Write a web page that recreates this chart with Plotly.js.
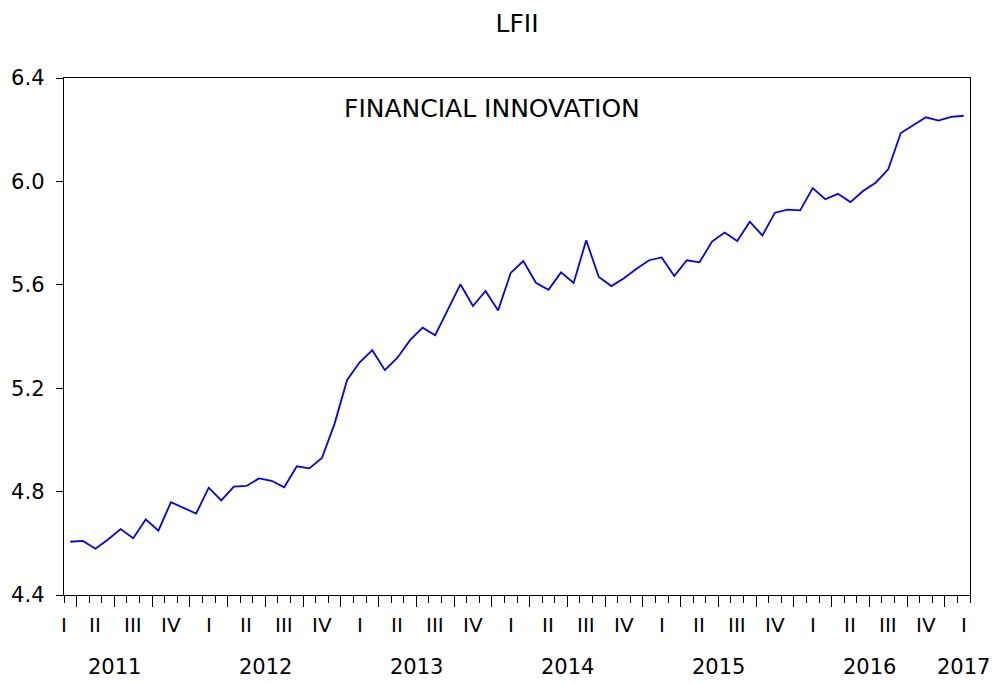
<!DOCTYPE html>
<html><head><meta charset="utf-8">
<script src="https://cdn.plot.ly/plotly-3.0.1.min.js"></script>
<style>html,body{margin:0;padding:0;background:#fff}#chart{width:995px;height:684px}</style>
</head><body><div id="chart"></div>
<script>
// ---- data ----
const chartTitle = "LFII";
const seriesName = "FINANCIAL INNOVATION";
// monthly values, 2011M01 .. 2016M12
const lfii = [
  4.606,4.609,4.579,4.615,4.655,4.620,4.693,4.649,4.759,4.737,4.715,4.815,
  4.766,4.819,4.822,4.851,4.842,4.817,4.898,4.890,4.930,5.062,5.232,5.300,
  5.347,5.270,5.318,5.386,5.434,5.405,5.505,5.602,5.518,5.576,5.501,5.646,
  5.692,5.608,5.581,5.648,5.607,5.772,5.630,5.595,5.625,5.662,5.695,5.706,
  5.634,5.695,5.687,5.767,5.802,5.769,5.844,5.791,5.879,5.891,5.888,5.974,
  5.931,5.952,5.920,5.963,5.995,6.047,6.187,6.217,6.248,6.235,6.250,6.254
];
const quarterLabels = ["I","II","III","IV"];
const yearLabels = ["2011","2012","2013","2014","2015","2016","2017"];
const yTickVals = [4.4,4.8,5.2,5.6,6.0,6.4];
const yTickText = ["4.4","4.8","5.2","5.6","6.0","6.4"];

// ---- layout helpers (positions on the month-index axis) ----
const n = lfii.length;
const monthIndex = lfii.map((_, i) => i);
const xRange = [-0.5, n - 0.5];
const longTicks = [];
for (let t = 0.5; t < n - 0.5; t += 3) longTicks.push(t);
const qVals = [-0.5], qText = [quarterLabels[0]];
for (let k = 1; -1 + 3 * k <= n - 1; k++) { qVals.push(-1 + 3 * k); qText.push(quarterLabels[k % 4]); }
const yrVals = [];
for (let k = 0; k < yearLabels.length - 1; k++) yrVals.push(3.5 + 12 * k);
yrVals.push(n - 1);

const FONT = "DejaVu Sans";
const tickFont = {family: FONT, size: 20, color: "#000"};

const trace = {
  x: monthIndex, y: lfii, type: "scatter", mode: "lines",
  line: {color: "#0000ff", width: 1.8}, name: seriesName, showlegend: false,
  hoverinfo: "y"
};

const annotations = [{
  text: seriesName, xref: "paper", yref: "paper", x: (491.5 - 64) / 906, y: 1 - (108.5 - 78) / 517,
  xanchor: "center", yanchor: "middle", showarrow: false,
  font: {family: FONT, size: 25, color: "#000"}
}];
qVals.forEach((v, i) => annotations.push({
  text: qText[i], xref: "x", yref: "paper", x: v, y: 0, xanchor: "center", yanchor: "top",
  yshift: -16, showarrow: false, font: tickFont
}));
yrVals.forEach((v, i) => annotations.push({
  text: yearLabels[i], xref: "x", yref: "paper", x: v, y: 0, xanchor: "center", yanchor: "top",
  yshift: -58, showarrow: false, font: {family: FONT, size: 21, color: "#000"}
}));

const layout = {
  width: 995, height: 684,
  margin: {l: 64, r: 25, t: 78, b: 89},
  paper_bgcolor: "#fff", plot_bgcolor: "#fff",
  showlegend: false,
  title: {text: chartTitle, font: {family: FONT, size: 25, color: "#000"},
          x: 0.5, xref: "paper", xanchor: "center", y: 1 - 23 / 684, yref: "container", yanchor: "middle"},
  xaxis: {
    range: xRange, showgrid: false, zeroline: false, fixedrange: true, automargin: false,
    showline: true, mirror: true, linecolor: "#000", linewidth: 1.3,
    tickmode: "array", tickvals: longTicks, ticks: "outside", ticklen: 11,
    tickwidth: 1, tickcolor: "#000", showticklabels: false,
    minor: {tickmode: "linear", tick0: -0.5, dtick: 1, ticks: "outside", ticklen: 7,
            tickwidth: 1, tickcolor: "#000", showgrid: false}
  },
  yaxis: {
    range: [4.4, 6.4], showline: true, mirror: true, linecolor: "#000", linewidth: 1.3,
    tickmode: "array", tickvals: yTickVals, ticktext: yTickText,
    ticks: "outside", ticklen: 7, tickwidth: 1, tickcolor: "#000",
    ticklabelstandoff: 7,
    tickfont: {family: FONT, size: 21, color: "#000"},
    showgrid: false, zeroline: false, fixedrange: true, automargin: false
  },
  annotations: annotations
};

Plotly.newPlot("chart", [trace], layout, {displayModeBar: false, staticPlot: true});
</script>
</body></html>
